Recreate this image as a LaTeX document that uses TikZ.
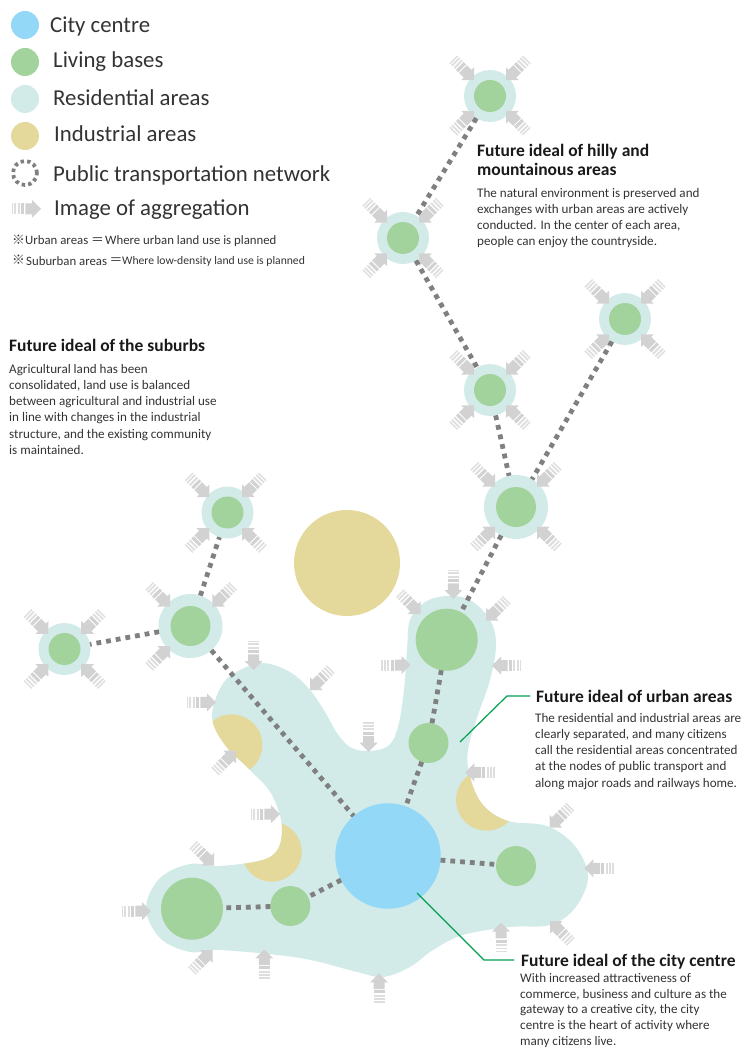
\documentclass[tikz,border=0pt]{standalone}
\usepackage{fontspec}
\setmainfont{Carlito}
\newfontfamily\cjkf{Noto Sans CJK JP}
\definecolor{cblue}{HTML}{94D8F8}
\definecolor{cgreen}{HTML}{A3D39C}
\definecolor{cres}{HTML}{D2EBE9}
\definecolor{cyel}{HTML}{E4D99B}
\definecolor{cnet}{HTML}{808080}
\definecolor{carr}{HTML}{D2D2D2}
\definecolor{cstripe}{HTML}{DEDEDE}
\definecolor{cinkt}{HTML}{333333}
\definecolor{clead}{HTML}{00A050}
\newcommand{\blobpath}{plot[smooth cycle,tension=0.6] coordinates {(263,663)(290,672)(310,690)(325,712)(337,733)(350,747)(367,751)(388,746)(398,727)(404,690)(407,650)(410,620)(425,602)(447,596)(470,600)(490,620)(496,645)(490,680)(478,715)(468,750)(470,777)(483,805)(508,821)(547,826)(575,846)(588,877)(575,908)(550,925)(510,927)(463,935)(433,950)(410,967)(383,977)(357,972)(300,958)(220,950)(190,952)(160,938)(146,908)(160,878)(190,864)(220,866)(270,857)(282,830)(272,795)(250,770)(225,745)(212,717)(222,685)(240,670)}}
\newcommand{\fourarr}[4]{%
  \pic[rotate=-45] at ({#1-#3},{#2-#4}) {aggr};
  \pic[rotate=225] at ({#1+#3},{#2-#4}) {aggr};
  \pic[rotate=45] at ({#1-#3},{#2+#4}) {aggr};
  \pic[rotate=135] at ({#1+#3},{#2+#4}) {aggr};
}
\tikzset{
  disc/.style={circle,inner sep=0pt,outer sep=0pt,minimum size=#1},
  ring/.style={disc=52pt,fill=cres},
  bigring/.style={disc=64pt,fill=cres},
  gsmall/.style={disc=32pt,fill=cgreen},
  gmid/.style={disc=40pt,fill=cgreen},
  gbig/.style={disc=62pt,fill=cgreen},
  net/.style={draw=cnet,line width=4.8pt,dash pattern=on 4.8pt off 5pt},
  lead/.style={draw=clead,line width=1.2pt},
  legtext/.style={anchor=base west,inner sep=0pt,text=cinkt,font=\fontsize{22.8}{28}\selectfont},
  notetext/.style={anchor=base west,inner sep=0pt,text=cinkt,font=\fontsize{12.8}{15}\selectfont},
  notesmall/.style={anchor=base west,inner sep=0pt,text=cinkt,font=\fontsize{11.65}{15}\selectfont},
  titletext/.style={anchor=base west,inner sep=0pt,align=left,text=black!90,font=\bfseries\fontsize{17.5}{19.5}\selectfont},
  bodytext/.style={anchor=north west,inner sep=0pt,align=left,text=cinkt,font=\fontsize{13.1}{16.2}\selectfont},
  bodytight/.style={anchor=north west,inner sep=0pt,align=left,text=cinkt,font=\fontsize{13.1}{15.8}\selectfont},
  aggr/.pic={
    \fill[carr] (0,0)--(-9,-9)--(-9,-5.5)--(-15.7,-5.5)--(-15.7,5.5)--(-9,5.5)--(-9,9)--cycle;
    \fill[carr] (-16.9,-5.5) rectangle (-20,5.5);
    \fill[cstripe] (-21.4,-5.5) rectangle (-23.4,5.5);
    \fill[cstripe] (-25,-5.5) rectangle (-26.7,5.5);
    \fill[cstripe] (-28,-5.5) rectangle (-29.4,5.5);
  }
}
\begin{document}
\begin{tikzpicture}[x=1pt,y=-1pt]
\useasboundingbox (0,0) rectangle (748,1048);
% legend
\node[disc=28pt,fill=cblue] (legcity) at (25,25) {};
\node[disc=28pt,fill=cgreen] (leggreen) at (25,62) {};
\node[disc=28pt,fill=cres] (legres) at (25,99) {};
\node[disc=28pt,fill=cyel] (legind) at (25,136) {};
\node[disc=24pt,draw=cnet,line width=3.8pt,dash pattern=on 3.4pt off 3.2pt] (legnet) at (25,173) {};
\pic at (41,209) {aggr};
\node[legtext] (t1) at (50,33) {City centre};
\node[legtext] (t2) at (53,68) {Living bases};
\node[legtext] (t3) at (53,106) {Residential areas};
\node[legtext] (t4) at (54,142) {Industrial areas};
\node[legtext] (t5) at (53,182) {Public transportation network};
\node[legtext] (t6) at (54,216) {Image of aggregation};
\node[notetext] (n1a) at (12,245) {{\cjkf ※}};
\node[notetext] (n1b) at (25,245) {Urban areas};
\node[notetext] (n1c) at (91,245) {{\cjkf ＝}};
\node[notetext] (n1d) at (105,245) {Where urban land use is planned};
\node[notetext] (n2a) at (12,265) {{\cjkf ※}};
\node[notetext] (n2b) at (26,265.5) {Suburban areas};
\node[notetext] (n2c) at (109.5,265) {{\cjkf ＝}};
\node[notesmall] (n2d) at (122,265) {Where low-density land use is planned};
% blob
\fill[cres] \blobpath;
\begin{scope}
  \clip \blobpath;
  \fill[cyel] (231.7,745) circle (30.6);
  \fill[cyel] (271.7,851.7) circle (30);
  \fill[cyel] (486.7,800) circle (30.7);
\end{scope}
\node[disc=106pt,fill=cyel] (ind) at (347,563) {};
% rings
\node[ring] (r1) at (490,96) {};
\node[ring] (r2) at (403,238) {};
\node[ring] (r3) at (490,390) {};
\node[ring] (r4) at (625,319) {};
\node[bigring] (r5) at (516,507) {};
\node[ring] (r6) at (227.5,512.5) {};
\node[bigring] (r7) at (190.5,626) {};
\node[ring] (r8) at (64.5,649) {};
\node[gsmall] (g1) at (490,96) {};
\node[gsmall] (g2) at (403,238) {};
\node[gsmall] (g3) at (490,390) {};
\node[gsmall] (g4) at (625,319) {};
\node[gmid] (g5) at (516,507) {};
\node[gsmall] (g6) at (227.5,512.5) {};
\node[gmid] (g7) at (190.5,626) {};
\node[gsmall] (g8) at (64.5,649) {};
\node[gbig] (b1) at (446.7,639.7) {};
\node[gmid] (b2) at (428.5,743) {};
\node[gmid] (b3) at (516,866) {};
\node[gbig] (b4) at (192,908.7) {};
\node[gmid] (b5) at (290.3,906) {};
\node[disc=105.5pt,fill=cblue] (city) at (388,856) {};
% arrows around satellites
\fourarr{490}{95.5}{16}{15.3}
\fourarr{403}{238}{16}{15.3}
\fourarr{490}{390}{16}{15.3}
\fourarr{625}{319}{16}{15.3}
\fourarr{516}{506.7}{21}{20}
\fourarr{225.7}{512.7}{16.3}{15.5}
\pic[rotate=-45] at (170,606.7) {aggr};
\pic[rotate=225] at (212.3,606.7) {aggr};
\pic[rotate=45] at (170,646) {aggr};
\fourarr{64.7}{649}{16.4}{15.2}
% arrows around the urban area
\pic[rotate=-90] at (253.7,670) {aggr};
\pic[rotate=225] at (310,690) {aggr};
\pic at (216,702.3) {aggr};
\pic[rotate=45] at (236,750.7) {aggr};
\pic[rotate=-90] at (368.7,751.7) {aggr};
\pic at (410.5,665) {aggr};
\pic at (280,814) {aggr};
\pic[rotate=-45] at (214,865.7) {aggr};
\pic[rotate=-45] at (420.7,614) {aggr};
\pic[rotate=-90] at (453.3,599) {aggr};
\pic[rotate=225] at (486,620.7) {aggr};
\pic[rotate=180] at (492,665.7) {aggr};
\pic[rotate=180] at (465.3,772.3) {aggr};
\pic[rotate=225] at (549.5,827.5) {aggr};
\pic[rotate=180] at (584.3,868.3) {aggr};
\pic[rotate=135] at (550,921) {aggr};
\pic[rotate=90] at (501,922.7) {aggr};
\pic at (151,911) {aggr};
\pic[rotate=45] at (212.7,950) {aggr};
\pic[rotate=90] at (264.3,949.3) {aggr};
\pic[rotate=90] at (379,973.3) {aggr};
% network
\draw[net] (r1) -- (r2);
\draw[net] (r2) -- (r3);
\draw[net] (r3) -- (r5);
\draw[net] (r4) -- (r5);
\draw[net] (r5) -- (b1);
\draw[net] (b1) -- (b2);
\draw[net] (b2) -- (city);
\draw[net] (city) -- (b3);
\draw[net] (city) -- (b5);
\draw[net] (b5) -- (b4);
\draw[net] (r7) -- (city);
\draw[net] (r7) -- (r6);
\draw[net] (r7) -- (r8);
% texts
\node[titletext] (h1) at (477,176) {Future ideal of hilly and\\mountainous areas};
\node[bodytext] (p1) at (477,188) {The natural environment is preserved and\\exchanges with urban areas are actively\\conducted. In the center of each area,\\people can enjoy the countryside.};
\node[titletext] (h2) at (9,351) {Future ideal of the suburbs};
\node[bodytext] (p2) at (9,364) {Agricultural land has been\\consolidated, land use is balanced\\between agricultural and industrial use\\in line with changes in the industrial\\structure, and the existing community\\is maintained.};
\node[titletext] (h3) at (536,702) {Future ideal of urban areas};
\node[bodytext] (p3) at (535,713) {The residential and industrial areas are\\clearly separated, and many citizens\\call the residential areas concentrated\\at the nodes of public transport and\\along major roads and railways home.};
\node[titletext] (h4) at (521,966) {Future ideal of the city centre};
\node[bodytight] (p4) at (520,973) {With increased attractiveness of\\commerce, business and culture as the\\gateway to a creative city, the city\\centre is the heart of activity where\\many citizens live.};
% leaders
\coordinate (la) at (460,742);
\coordinate (lb) at (507,696);
\coordinate (lc) at (530,696);
\draw[lead] (la) -- (lb) -- (lc);
\coordinate (ld) at (417,893);
\coordinate (le) at (484,960);
\coordinate (lf) at (514,960);
\draw[lead] (ld) -- (le) -- (lf);
\end{tikzpicture}
\end{document}
